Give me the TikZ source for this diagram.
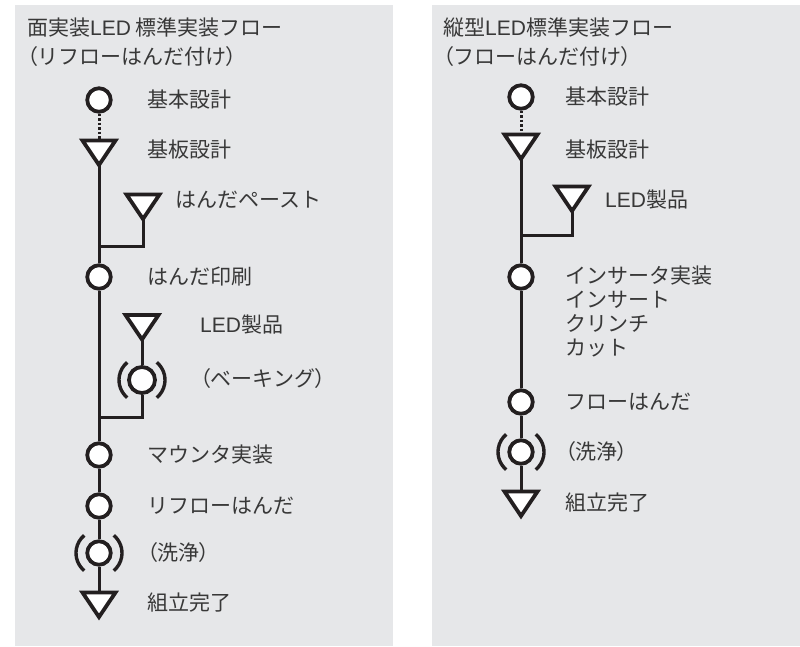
\documentclass[tikz,border=0pt]{standalone}
\usepackage{fontspec}
\setmainfont{Noto Sans CJK JP}
\newfontfamily\pfont[RawFeature=+palt]{Noto Sans CJK JP}
\newfontfamily\latfont{Liberation Sans}
\newcommand\lpar{{\pfont （}}
\newcommand\rpar{{\pfont ）}}
\newcommand\led{{\latfont LED}}
\definecolor{panel}{HTML}{E6E7E9}
\definecolor{ink}{HTML}{231F20}
\definecolor{txt}{HTML}{383838}
\newcommand\trimark[3]{%
  \draw[tri] (#2-16.5,#3) -- (#2+16.5,#3) -- (#2,#3+24.5) -- cycle;
  \coordinate (#1) at (#2,#3+24.5);
  \coordinate (#1t) at (#2,#3);}
\newcommand\parens[1]{%
  \draw[paren] (#1.center) ++(130:23) arc[start angle=130,end angle=230,radius=23];
  \draw[paren] (#1.center) ++(-50:23) arc[start angle=-50,end angle=50,radius=23];}
\begin{document}
\begin{tikzpicture}[x=1pt,y=-1pt,
  lbl/.style={anchor=west,inner sep=0,text=txt,font=\fontsize{21}{24}\selectfont,align=left},
  proc/.style={circle,draw=ink,line width=3.8,fill=white,minimum size=23.5,inner sep=0},
  tri/.style={draw=ink,line width=3.8,fill=white,line join=miter},
  flow/.style={draw=ink,line width=3},
  dots/.style={draw=ink,line width=3,dash pattern=on 2.5 off 2},
  paren/.style={draw=ink,line width=3.4}]
\useasboundingbox (0,0) rectangle (800,646);
\fill[panel] (15,5) rectangle (393,646);
\fill[panel] (432,5) rectangle (800,646);

% ---------- left panel ----------
\node[lbl] (lt1) at (27,28) {面実装\led\ 標準実装フロー};
\node[lbl] (lt2) at (27,57) {\lpar リフローはんだ付け\rpar};

\trimark{t1}{99}{140.5}
\trimark{tp}{143}{194.5}
\trimark{tl}{142}{315}
\trimark{te}{99}{592.5}
\node[proc] (c1) at (99,100) {};
\node[proc] (c2) at (99,277) {};
\node[proc,minimum size=26] (cb) at (142,380) {};
\node[proc] (c3) at (99,455) {};
\node[proc] (c4) at (99,506) {};
\node[proc] (c5) at (99,553) {};
\parens{cb}
\parens{c5}
\coordinate (j1) at (99,246);
\coordinate (j2) at (99,417);

\draw[dots] (c1) -- (t1t);
\draw[flow] (t1) -- (c2);
\draw[flow] (tp) |- (j1);
\draw[flow] (c2) -- (c3);
\draw[flow] (tl) -- (cb);
\draw[flow] (cb) |- (j2);
\draw[flow] (c3) -- (c4);
\draw[flow] (c4) -- (c5);
\draw[flow] (c5) -- (tet);

\node[lbl] (l1) at (147,100) {基本設計};
\node[lbl] (l2) at (147,150) {基板設計};
\node[lbl] (l3) at (175,200) {はんだペースト};
\node[lbl] (l4) at (147,277) {はんだ印刷};
\node[lbl] (l5) at (200,325) {\led 製品};
\node[lbl] (l6) at (200,379) {\lpar ベーキング\rpar};
\node[lbl] (l7) at (147,455) {マウンタ実装};
\node[lbl] (l8) at (147,506) {リフローはんだ};
\node[lbl] (l9) at (147,553) {\lpar 洗浄\rpar};
\node[lbl] (l10) at (147,603) {組立完了};

% ---------- right panel ----------
\node[lbl] (rt1) at (443,28) {縦型\led 標準実装フロー};
\node[lbl] (rt2) at (443,57) {\lpar フローはんだ付け\rpar};

\trimark{s1}{521}{134.5}
\trimark{sl}{572}{186.5}
\trimark{se}{521}{491.5}
\node[proc] (r1) at (521,97) {};
\node[proc] (r2) at (521,277) {};
\node[proc] (r3) at (521,402) {};
\node[proc] (r4) at (521,452) {};
\parens{r4}
\coordinate (rj1) at (521,235);

\draw[dots] (r1) -- (s1t);
\draw[flow] (s1) -- (r2);
\draw[flow] (sl) |- (rj1);
\draw[flow] (r2) -- (r3);
\draw[flow] (r3) -- (r4);
\draw[flow] (r4) -- (set);

\node[lbl] (m1) at (565,97) {基本設計};
\node[lbl] (m2) at (565,150) {基板設計};
\node[lbl] (m3) at (605,200) {\led 製品};
\node[lbl] (m4) at (565,311) {インサータ実装\\インサート\\クリンチ\\カット};
\node[lbl] (m5) at (565,402) {フローはんだ};
\node[lbl] (m6) at (565,452) {\lpar 洗浄\rpar};
\node[lbl] (m7) at (565,503) {組立完了};
\end{tikzpicture}
\end{document}
